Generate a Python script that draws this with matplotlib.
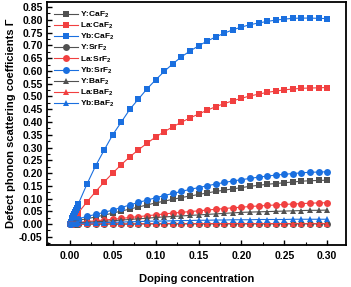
import numpy as np
import matplotlib.pyplot as plt
from matplotlib.ticker import MultipleLocator

# doping concentration
x = [0.000, 0.001, 0.002, 0.003, 0.004, 0.005, 0.006, 0.007, 0.008, 0.009,
     0.01, 0.02, 0.03, 0.04, 0.05, 0.06, 0.07, 0.08, 0.09, 0.10,
     0.11, 0.12, 0.13, 0.14, 0.15, 0.16, 0.17, 0.18, 0.19, 0.20,
     0.21, 0.22, 0.23, 0.24, 0.25, 0.26, 0.27, 0.28, 0.29, 0.30]

# CaF2
Y_CaF2 = [0.000, 0.0015, 0.003, 0.0045, 0.006, 0.0075, 0.009, 0.0105, 0.012, 0.0135,
          0.015, 0.021, 0.028, 0.035, 0.043, 0.051, 0.059, 0.067, 0.075, 0.083,
          0.090, 0.097, 0.104, 0.110, 0.116, 0.122, 0.128, 0.133, 0.138, 0.143,
          0.148, 0.152, 0.156, 0.159, 0.162, 0.165, 0.168, 0.170, 0.171, 0.172]
La_CaF2 = [0.000, 0.0045, 0.009, 0.0135, 0.018, 0.0225, 0.027, 0.0315, 0.036, 0.0405,
           0.045, 0.087, 0.127, 0.165, 0.200, 0.233, 0.264, 0.291, 0.317, 0.341,
           0.362, 0.381, 0.399, 0.416, 0.431, 0.446, 0.460, 0.472, 0.483, 0.493,
           0.502, 0.509, 0.516, 0.521, 0.526, 0.529, 0.532, 0.533, 0.534, 0.535]
Yb_CaF2 = [0.000, 0.008, 0.016, 0.024, 0.032, 0.040, 0.048, 0.056, 0.064, 0.072,
           0.080, 0.157, 0.228, 0.290, 0.350, 0.400, 0.450, 0.490, 0.530, 0.565,
           0.598, 0.628, 0.655, 0.678, 0.698, 0.717, 0.733, 0.748, 0.761, 0.772,
           0.781, 0.788, 0.794, 0.799, 0.803, 0.806, 0.807, 0.807, 0.806, 0.805]

# SrF2
Y_SrF2 = [0.000, 0.000, 0.000, 0.000, 0.000, 0.000, 0.000, 0.000, 0.000, 0.000,
          0.000, 0.000, 0.000, 0.000, 0.000, 0.000, 0.000, 0.001, 0.001, 0.001,
          0.001, 0.001, 0.001, 0.001, 0.001, 0.001, 0.001, 0.001, 0.001, 0.001,
          0.001, 0.001, 0.001, 0.001, 0.001, 0.001, 0.001, 0.001, 0.001, 0.001]
La_SrF2 = [0.000, 0.0007, 0.0014, 0.0021, 0.0028, 0.0035, 0.0042, 0.0049, 0.0056, 0.0063,
           0.007, 0.010, 0.013, 0.016, 0.019, 0.022, 0.026, 0.029, 0.033, 0.036,
           0.040, 0.043, 0.046, 0.049, 0.052, 0.055, 0.058, 0.061, 0.064, 0.066,
           0.069, 0.071, 0.073, 0.075, 0.077, 0.079, 0.080, 0.082, 0.083, 0.084]
Yb_SrF2 = [0.000, 0.002, 0.004, 0.006, 0.008, 0.010, 0.012, 0.014, 0.016, 0.018,
           0.021, 0.030, 0.038, 0.046, 0.055, 0.065, 0.075, 0.085, 0.094, 0.103,
           0.112, 0.120, 0.128, 0.136, 0.143, 0.150, 0.157, 0.163, 0.169, 0.174,
           0.179, 0.184, 0.188, 0.192, 0.195, 0.198, 0.201, 0.203, 0.204, 0.205]

# BaF2
Y_BaF2 = [0.000, 0.0005, 0.001, 0.0015, 0.002, 0.0025, 0.003, 0.0035, 0.004, 0.0045,
          0.005, 0.007, 0.009, 0.011, 0.013, 0.016, 0.018, 0.021, 0.023, 0.026,
          0.028, 0.030, 0.032, 0.034, 0.036, 0.038, 0.040, 0.042, 0.044, 0.046,
          0.047, 0.048, 0.049, 0.050, 0.051, 0.052, 0.053, 0.054, 0.054, 0.055]
La_BaF2 = [0.000, 0.000, 0.000, 0.000, 0.000, 0.000, 0.000, 0.000, 0.000, 0.000,
           0.000, 0.000, 0.001, 0.001, 0.001, 0.001, 0.001, 0.001, 0.001, 0.002,
           0.002, 0.002, 0.002, 0.002, 0.002, 0.002, 0.002, 0.002, 0.002, 0.002,
           0.002, 0.002, 0.002, 0.002, 0.002, 0.002, 0.002, 0.002, 0.002, 0.002]
Yb_BaF2 = [0.000, 0.0003, 0.0006, 0.0009, 0.0012, 0.0015, 0.0018, 0.0021, 0.0024, 0.0027,
           0.003, 0.004, 0.005, 0.006, 0.007, 0.008, 0.009, 0.010, 0.011, 0.012,
           0.012, 0.013, 0.014, 0.014, 0.015, 0.015, 0.016, 0.016, 0.017, 0.017,
           0.017, 0.018, 0.018, 0.018, 0.018, 0.019, 0.019, 0.019, 0.019, 0.019]

labels = ['Y:CaF$_2$', 'La:CaF$_2$', 'Yb:CaF$_2$',
          'Y:SrF$_2$', 'La:SrF$_2$', 'Yb:SrF$_2$',
          'Y:BaF$_2$', 'La:BaF$_2$', 'Yb:BaF$_2$']
series = [Y_CaF2, La_CaF2, Yb_CaF2, Y_SrF2, La_SrF2, Yb_SrF2, Y_BaF2, La_BaF2, Yb_BaF2]

gray = '#515151'
red = '#F14040'
blue = '#1A6FDF'
colors = [gray, red, blue] * 3
markers = ['s'] * 3 + ['o'] * 3 + ['^'] * 3

plt.rcParams['font.family'] = ['Liberation Sans', 'DejaVu Sans']
plt.rcParams['font.weight'] = 'bold'
plt.rcParams['mathtext.default'] = 'regular'

fig = plt.figure(figsize=(3.51, 2.87), dpi=100)
ax = fig.add_axes([0.133, 0.148, 0.853, 0.845])

for y, lab, c, m in zip(series, labels, colors, markers):
    ax.plot(x, y, color=c, marker=m, ms=5, lw=0.8, mew=0, label=lab)

ax.set_xlim(-0.027, 0.322)
ax.set_ylim(-0.08, 0.87)
ax.set_xticks(np.arange(0, 0.31, 0.05))
ax.set_yticks(np.arange(-0.05, 0.851, 0.05))
ax.xaxis.set_minor_locator(MultipleLocator(0.025))
ax.yaxis.set_minor_locator(MultipleLocator(0.025))
ax.xaxis.set_major_formatter(plt.FormatStrFormatter('%.2f'))
ax.yaxis.set_major_formatter(plt.FormatStrFormatter('%.2f'))
ax.tick_params(which='major', direction='in', length=3.5, width=1, labelsize=7.5, pad=3)
ax.tick_params(axis='x', which='major', pad=5)
ax.tick_params(which='minor', direction='in', length=2, width=0.8)
for sp in ax.spines.values():
    sp.set_linewidth(1.3)

ax.set_xlabel('Doping concentration', fontsize=8, fontweight='bold', labelpad=9)
ax.set_ylabel('Defect phonon scattering coefficients Γ', fontsize=8, fontweight='bold', labelpad=2)

ax.legend(loc='upper left', frameon=False, handlelength=2.9,
          labelspacing=0.12, borderaxespad=0.5, handletextpad=0.2,
          prop={'weight': 'bold', 'size': 6})

fig.savefig('out.png', dpi=100)
